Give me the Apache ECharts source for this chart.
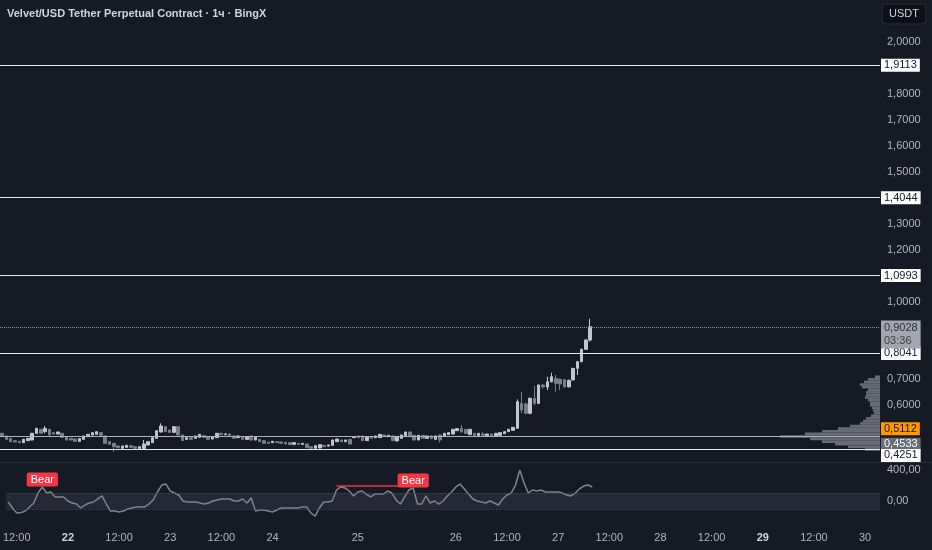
<!DOCTYPE html>
<html><head><meta charset="utf-8">
<script src="https://cdn.jsdelivr.net/npm/echarts@6/dist/echarts.min.js"></script>
<style>html,body{margin:0;padding:0;background:#161a25;}#c{width:932px;height:550px;}</style>
</head><body><div id="c"></div>
<script>
const titleText = 'Velvet/USD Tether Perpetual Contract · 1ч · BingX';
const currencyText = 'USDT';
const barCount = 205;
const xTickLabels = {2:'12:00',14:'22',26:'12:00',38:'23',50:'12:00',62:'24',82:'25',105:'26',117:'12:00',129:'27',141:'12:00',153:'28',165:'12:00',177:'29',189:'12:00',201:'30'};
const boldTicks = ['22','29'];
const priceTickLabels = [2.0,1.8,1.7,1.6,1.5,1.3,1.2,1.0,0.7,0.6];
const cciTickLabels = [400,0];
// [open, close, low, high]
const candles = [
[0.4920,0.4817,0.4800,0.4940],[0.4817,0.4688,0.4670,0.4830],[0.4727,0.4598,0.4580,0.4740],[0.4637,0.4586,0.4570,0.4650],
[0.4611,0.4560,0.4545,0.4625],[0.4560,0.4688,0.4550,0.4700],[0.4637,0.4727,0.4625,0.4740],[0.4663,0.4920,0.4650,0.4935],
[0.4920,0.5112,0.4905,0.5130],[0.5074,0.4920,0.4905,0.5090],[0.4984,0.5112,0.4920,0.5202],[0.5074,0.4856,0.4840,0.5090],
[0.4946,0.4894,0.4880,0.4970],[0.4894,0.4971,0.4880,0.4985],[0.4920,0.4766,0.4750,0.4935],[0.4791,0.4663,0.4650,0.4805],
[0.4727,0.4663,0.4650,0.4740],[0.4700,0.4610,0.4590,0.4715],[0.4610,0.4720,0.4598,0.4730],[0.4688,0.4817,0.4675,0.4830],
[0.4791,0.4881,0.4775,0.4895],[0.4856,0.4946,0.4840,0.4960],[0.4881,0.4984,0.4865,0.5000],[0.4946,0.4843,0.4830,0.4960],
[0.4817,0.4534,0.4520,0.4830],[0.4598,0.4496,0.4480,0.4610],[0.4534,0.4406,0.4213,0.4550],[0.4431,0.4367,0.4355,0.4445],
[0.4342,0.4431,0.4330,0.4445],[0.4380,0.4457,0.4370,0.4470],[0.4444,0.4380,0.4370,0.4460],[0.4406,0.4342,0.4330,0.4420],
[0.4329,0.4406,0.4315,0.4420],[0.4329,0.4509,0.4315,0.4663],[0.4470,0.4598,0.4455,0.4610],[0.4560,0.4753,0.4545,0.4770],
[0.4727,0.5022,0.4715,0.5040],[0.4971,0.5202,0.4955,0.5305],[0.5177,0.4984,0.4970,0.5190],[0.5048,0.4958,0.4945,0.5060],
[0.4958,0.5177,0.4945,0.5190],[0.5177,0.4856,0.4840,0.5190],[0.4856,0.4637,0.4620,0.4870],[0.4688,0.4753,0.4675,0.4770],
[0.4753,0.4688,0.4675,0.4765],[0.4727,0.4817,0.4715,0.4830],[0.4766,0.4881,0.4750,0.4895],[0.4830,0.4766,0.4750,0.4845],
[0.4791,0.4688,0.4675,0.4805],[0.4700,0.4791,0.4688,0.4805],[0.4753,0.4920,0.4740,0.4935],[0.4920,0.4869,0.4855,0.4935],
[0.4869,0.4894,0.4850,0.4935],[0.4894,0.4843,0.4830,0.4910],[0.4817,0.4727,0.4710,0.4830],[0.4753,0.4817,0.4740,0.4830],
[0.4791,0.4688,0.4675,0.4805],[0.4688,0.4791,0.4675,0.4805],[0.4817,0.4663,0.4650,0.4830],[0.4663,0.4766,0.4650,0.4780],
[0.4688,0.4598,0.4585,0.4700],[0.4637,0.4534,0.4520,0.4650],[0.4580,0.4534,0.4520,0.4600],[0.4560,0.4611,0.4545,0.4625],
[0.4598,0.4560,0.4545,0.4610],[0.4586,0.4534,0.4520,0.4600],[0.4573,0.4509,0.4495,0.4585],[0.4560,0.4483,0.4470,0.4575],
[0.4496,0.4560,0.4483,0.4575],[0.4534,0.4496,0.4483,0.4548],[0.4496,0.4534,0.4483,0.4548],[0.4509,0.4367,0.4355,0.4522],
[0.4406,0.4342,0.4330,0.4420],[0.4342,0.4444,0.4330,0.4457],[0.4355,0.4483,0.4342,0.4496],[0.4457,0.4406,0.4393,0.4470],
[0.4431,0.4470,0.4418,0.4483],[0.4457,0.4663,0.4444,0.4675],[0.4598,0.4700,0.4585,0.4715],[0.4663,0.4598,0.4585,0.4675],
[0.4598,0.4663,0.4585,0.4675],[0.4688,0.4509,0.4496,0.4700],
[0.4753,0.4791,0.4740,0.4805],[0.4817,0.4753,0.4740,0.4830],[0.4817,0.4637,0.4625,0.4830],[0.4637,0.4791,0.4625,0.4805],
[0.4791,0.4727,0.4715,0.4805],[0.4753,0.4817,0.4740,0.4830],[0.4753,0.4881,0.4740,0.4895],[0.4856,0.4817,0.4805,0.4870],
[0.4791,0.4843,0.4780,0.4856],[0.4817,0.4637,0.4625,0.4830],[0.4625,0.4791,0.4612,0.4805],[0.4727,0.4856,0.4715,0.4870],
[0.4830,0.4971,0.4817,0.4985],[0.4971,0.4791,0.4780,0.4985],[0.4843,0.4663,0.4650,0.4856],[0.4663,0.4843,0.4650,0.4856],
[0.4843,0.4727,0.4715,0.4856],[0.4727,0.4817,0.4715,0.4830],[0.4817,0.4715,0.4700,0.4830],[0.4688,0.4817,0.4675,0.4830],
[0.4856,0.4663,0.4560,0.4870],[0.4817,0.4920,0.4805,0.4935],[0.4869,0.4946,0.4856,0.4960],
[0.4894,0.5074,0.4881,0.5090],[0.5022,0.5099,0.5010,0.5112],[0.5112,0.4971,0.4958,0.5240],[0.5074,0.4920,0.4907,0.5087],
[0.4869,0.5074,0.4856,0.5087],[0.4920,0.4843,0.4830,0.4935],[0.4830,0.4920,0.4817,0.4935],[0.4894,0.4843,0.4830,0.4971],
[0.4830,0.4894,0.4817,0.4907],[0.4894,0.4830,0.4817,0.4907],[0.4817,0.4920,0.4805,0.4935],
[0.4843,0.4946,0.4830,0.4960],[0.4907,0.4984,0.4894,0.4997],[0.4984,0.5074,0.4971,0.5087],[0.5035,0.5151,0.5022,0.5164],
[0.5113,0.6138,0.5100,0.6228],[0.6074,0.5818,0.5692,0.6524],[0.6050,0.5692,0.5650,0.6100],[0.5692,0.6267,0.5650,0.6300],
[0.6267,0.6074,0.6010,0.6743],[0.6074,0.6782,0.6050,0.6800],[0.6782,0.6705,0.6650,0.6820],[0.6705,0.6910,0.6589,0.7102],
[0.6910,0.7102,0.6880,0.7256],[0.7038,0.6846,0.6524,0.7168],[0.7000,0.6820,0.6589,0.7038],[0.6990,0.6710,0.6680,0.7000],
[0.6710,0.6960,0.6700,0.6990],[0.6975,0.7424,0.6960,0.7440],[0.7424,0.7681,0.7168,0.7700],[0.7681,0.8158,0.7660,0.8180],
[0.8158,0.8516,0.8131,0.8540],[0.8516,0.9028,0.8451,0.9337]
];
const cciValues = [
-13,-90,-155,-148,-129,-77,-26,103,181,103,116,52,52,52,0,-26,-39,-90,-52,-26,
-13,26,65,-39,-129,-129,-142,-129,-103,-90,-77,-77,-77,-39,13,116,206,219,129,103,
77,0,-13,-13,-13,-26,-39,-26,0,13,26,26,26,0,0,26,-26,39,-129,-116,
-116,-129,-142,-116,-90,-90,-90,-90,-90,-77,-77,-155,-194,-90,-13,-13,0,142,181,168,
129,65,116,129,90,52,90,90,90,129,103,13,-39,52,142,168,-39,-39,65,-26,
0,-39,0,65,116,181,219,155,90,26,0,-13,-26,0,-26,-52,26,77,103,206,
400,232,103,142,129,142,116,116,116,116,103,77,65,103,155,193,206,181
];
const levelLines = [1.9113,1.4044,1.0993,0.8041,0.4251];
const pocLine = 0.4846;
const lastPrice = 0.9028;
const countdown = '03:36';
const orangeMark = 0.5112;
const grayMark = 0.4533;
const profileBins = [0.43,0.44,0.45,0.46,0.47,0.48,0.49,0.50,0.51,0.52,0.53,0.54,0.55,0.56,0.57,0.58,0.59,0.60,0.61,0.62,0.63,0.64,0.65,0.66,0.67,0.68,0.69,0.70,0.71];
const profileVolume = [15,32,45,58,70,100,75,58,42,30,20,17,14,9,6,7,8,10,10,12,15,14,14,12,18,20,16,12,5];
const bearSignals = [[8,181],[95,168]];
const divergenceLine = [[77,194],[95,194]];

const FONT = 'Liberation Sans';
const fmtP = v => v.toFixed(4).replace('.', ',');
const categories = Array.from({length: barCount}, (_, i) => String(i));
const boxLabel = (text, bg, fg, extra) => Object.assign({
  show: true, position: 'end', distance: 1, formatter: text, backgroundColor: bg, color: fg,
  padding: [1, 3, 0, 3], fontSize: 11, lineHeight: 12, fontFamily: FONT
}, extra || {});

const chart = echarts.init(document.getElementById('c'), null, {renderer: 'canvas'});
chart.setOption({
  animation: false,
  backgroundColor: '#161a25',
  title: {text: titleText, left: 7, top: 8, padding: 0, textStyle: {color: '#d1d4dc', fontSize: 11, fontWeight: 'bold', fontFamily: FONT}},
  grid: [
    {left: 0, right: 52, top: 16.05, height: 441.15},
    {left: 700, right: 52, top: 375.46, height: 75.26},
    {left: 0, right: 52, top: 470, height: 62}
  ],
  xAxis: [
    {type: 'category', gridIndex: 0, data: categories, show: false},
    {type: 'value', gridIndex: 1, min: 0, max: 180, inverse: true, show: false},
    {type: 'category', gridIndex: 2, data: categories,
     axisLine: {show: false}, axisTick: {show: false}, splitLine: {show: false},
     axisLabel: {interval: 0, margin: 0, color: '#b2b5be', fontSize: 11, fontFamily: FONT,
       formatter: v => { const t = xTickLabels[+v]; if (!t) return ''; return boldTicks.includes(t) ? '{b|' + t + '}' : t; },
       rich: {b: {fontWeight: 'bold', color: '#d1d4dc', fontSize: 11, fontFamily: FONT}}}}
  ],
  yAxis: [
    {type: 'value', gridIndex: 0, position: 'right', min: 0.4, max: 2.1, interval: 0.1,
     axisLine: {show: false}, axisTick: {show: false}, splitLine: {show: false},
     axisLabel: {margin: 7, color: '#b2b5be', fontSize: 11, fontFamily: FONT,
       formatter: v => priceTickLabels.some(t => Math.abs(t - v) < 1e-6) ? fmtP(v) : ''}},
    {type: 'category', gridIndex: 1, data: profileBins, show: false},
    {type: 'value', gridIndex: 2, position: 'right', min: -400, max: 400, interval: 400,
     axisLine: {show: false}, axisTick: {show: false}, splitLine: {show: false},
     axisLabel: {margin: 7, color: '#b2b5be', fontSize: 11, fontFamily: FONT,
       formatter: v => cciTickLabels.includes(v) ? v.toFixed(2).replace('.', ',') : ''}}
  ],
  series: [
    {type: 'bar', name: 'profile', xAxisIndex: 1, yAxisIndex: 1, data: profileVolume,
     barCategoryGap: '0%', itemStyle: {color: '#686b75'}, silent: true},
    {type: 'candlestick', name: 'price', xAxisIndex: 0, yAxisIndex: 0, data: candles, barWidth: 3,
     itemStyle: {color: '#c3c5cb', color0: '#7b7e88', borderColor: '#c3c5cb', borderColor0: '#7b7e88', borderWidth: 1},
     markLine: {symbol: ['none', 'none'], silent: true, animation: false,
       data: [
         {yAxis: pocLine, lineStyle: {color: '#aeb1ba', width: 1, type: 'solid'}, label: {show: false}},
         {yAxis: orangeMark, lineStyle: {color: 'rgba(0,0,0,0)', width: 0}, label: boxLabel(fmtP(orangeMark), '#ff9800', '#131722')},
         {yAxis: grayMark, lineStyle: {color: 'rgba(0,0,0,0)', width: 0}, label: boxLabel(fmtP(grayMark), '#6a6d78', '#ffffff')},
         ...levelLines.map(v => ({yAxis: v, lineStyle: {color: '#e6e8ee', width: 1, type: 'solid'},
             label: boxLabel(fmtP(v), '#ffffff', '#131722', v < 0.45 ? {offset: [0, 6]} : {})})),
         {yAxis: lastPrice, lineStyle: {color: '#8a8d96', width: 1, type: 'dotted'},
           label: boxLabel('{a|' + fmtP(lastPrice) + '}\n{b|' + countdown + '}', '#a3a6ae', '#2a2e39',
             {offset: [0, 7], padding: [1, 3, 1, 3], rich: {a: {fontSize: 11, lineHeight: 13, color: '#2a2e39', fontFamily: FONT}, b: {fontSize: 11, lineHeight: 13, color: '#3c3f48', fontFamily: FONT}}})}
       ]}},
    {type: 'line', name: 'CCI', xAxisIndex: 2, yAxisIndex: 2, data: cciValues, symbol: 'none',
     lineStyle: {color: '#80838d', width: 1.5}, z: 3,
     markArea: {silent: true, itemStyle: {color: '#252935'}, data: [[{yAxis: 100}, {yAxis: -100}]]},
     markLine: {symbol: ['none', 'none'], silent: true, animation: false,
       data: [
         {yAxis: 100, lineStyle: {color: '#4a4e59', type: 'dotted', width: 1}, label: {show: false}},
         {yAxis: -100, lineStyle: {color: '#4a4e59', type: 'dotted', width: 1}, label: {show: false}},
         [{coord: divergenceLine[0], lineStyle: {color: '#f23645', width: 1.5, type: 'solid'}, label: {show: false}}, {coord: divergenceLine[1]}]
       ]},
     markPoint: {silent: true, symbol: 'circle', symbolSize: 1, itemStyle: {color: 'rgba(0,0,0,0)'},
       label: {show: true, position: 'top', distance: 0, formatter: 'Bear', backgroundColor: '#f23645', color: '#ffffff',
         padding: [1, 4, 1, 4], borderRadius: 2, fontSize: 11, lineHeight: 12, fontFamily: FONT},
       data: bearSignals.map(p => ({coord: p}))}}
  ],
  graphic: [
    {type: 'line', shape: {x1: 0, y1: 462.5, x2: 932, y2: 462.5}, style: {stroke: '#2a2e39', lineWidth: 1}, silent: true},
    {type: 'rect', shape: {x: 882, y: 4, width: 44, height: 20, r: 4}, style: {fill: '#0e1017', stroke: '#2a2e39', lineWidth: 1}, silent: true},
    {type: 'text', x: 904, y: 14, style: {text: currencyText, fill: '#d1d4dc', font: '11px "Liberation Sans"', align: 'center', verticalAlign: 'middle'}, silent: true}
  ]
});
</script></body></html>
